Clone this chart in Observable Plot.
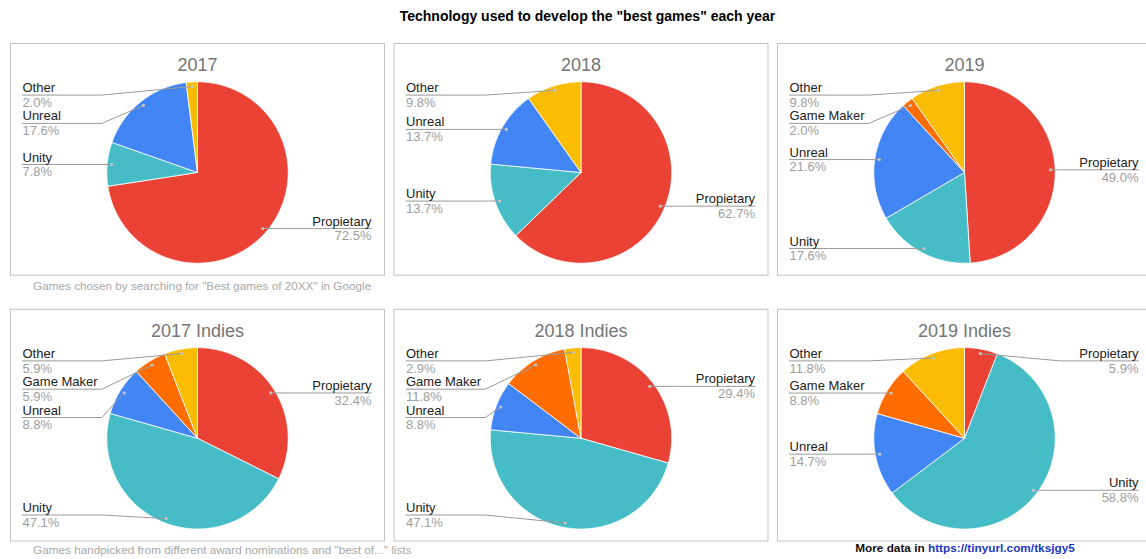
<!DOCTYPE html>
<html>
<head>
<meta charset="utf-8">
<script src="https://cdn.jsdelivr.net/npm/d3@7"></script>
<script src="https://cdn.jsdelivr.net/npm/@observablehq/plot@0.6"></script>
<style>
  html, body { margin: 0; padding: 0; background: #fff; overflow: hidden; width: 1146px; height: 559px; }
  #wrap { position: relative; width: 1146px; height: 559px; font-family: Arial, "Liberation Sans", sans-serif; overflow: hidden; }
  #chart { position: absolute; left: 0; top: 0; width: 1151px; }
  #chart svg { max-width: none !important; }
  .abs { position: absolute; line-height: 1; white-space: nowrap; }
  #title { left: 0; width: 1175px; top: 9px; text-align: center; font-weight: bold; font-size: 14px; color: #000; }
  .caption { left: 33px; font-size: 11.75px; color: #a8a8a8; }
  #cap1 { top: 280.2px; }
  #cap2 { top: 543.7px; }
  #more { left: 765px; width: 400px; text-align: center; top: 543px; font-size: 11.8px; font-weight: bold; color: #111; }
  #more span { color: #2236c8; }
</style>
</head>
<body>
<div id="wrap">
  <div id="chart"></div>
  <div id="title" class="abs">Technology used to develop the "best games" each year</div>
  <div id="cap1" class="abs caption">Games chosen by searching for "Best games of 20XX" in Google</div>
  <div id="cap2" class="abs caption">Games handpicked from different award nominations and "best of..." lists</div>
  <div id="more" class="abs">More data in <span>https://tinyurl.com/tksjgy5</span></div>
</div>
<script>
// ---- data ----
const technologies = ["Propietary", "Unity", "Unreal", "Game Maker", "Other"];
const techColors = ["#ea4335", "#46bdc6", "#4285f4", "#ff6d01", "#fbbc04"];
const panelYears = ["2017", "2018", "2019", "2017", "2018", "2019"];
const panelGroups = ["All", "All", "All", "Indies", "Indies", "Indies"];
const panelTitles = ["2017", "2018", "2019", "2017 Indies", "2018 Indies", "2019 Indies"];
const share2017 = [72.5, 7.8, 17.6, null, 2.0];
const share2018 = [62.7, 13.7, 13.7, null, 9.8];
const share2019 = [49.0, 17.6, 21.6, 2.0, 9.8];
const share2017Indies = [32.4, 47.1, 8.8, 5.9, 5.9];
const share2018Indies = [29.4, 47.1, 8.8, 11.8, 2.9];
const share2019Indies = [5.9, 58.8, 14.7, 8.8, 11.8];
const panelShares = [share2017, share2018, share2019, share2017Indies, share2018Indies, share2019Indies];

// ---- layout constants (pixel units inside each panel, origin at pie centre) ----
const R = 90.7;
const TOP = -R + 13.3, BOTTOM = R - 14, GAP = 28.3;
const LEFT_X = -175, RIGHT_X = 174, BEND = R + 5;

const slices = [], leaders = [], anchors = [], labels = [];
panelShares.forEach((shares, p) => {
  const fx = panelYears[p], fy = panelGroups[p];
  const items = technologies.map((t, i) => ({tech: t, value: shares[i]})).filter(d => d.value > 0);
  const total = d3.sum(items, d => d.value);
  let a = 0;
  items.forEach(d => {
    d.a0 = a; a += d.value / total * 2 * Math.PI; d.a1 = a;
    d.mid = (d.a0 + d.a1) / 2;
    d.id = p + "-" + d.tech;
    const n = Math.max(2, Math.ceil((d.a1 - d.a0) / (Math.PI / 180)));
    slices.push({id: d.id, fx, fy, tech: d.tech, x: 0, y: 0});
    for (let k = 0; k <= n; k++) {
      const ang = d.a0 + (d.a1 - d.a0) * k / n;
      slices.push({id: d.id, fx, fy, tech: d.tech, x: R * Math.sin(ang), y: -R * Math.cos(ang)});
    }
    slices.push({id: d.id, fx, fy, tech: d.tech, x: 0, y: 0});
    d.ax = 0.95 * R * Math.sin(d.mid);
    d.ay = -0.95 * R * Math.cos(d.mid);
    d.side = d.mid > Math.PI ? -1 : 1;
  });
  for (const side of [-1, 1]) {
    const g = items.filter(d => d.side === side).sort((u, v) => u.ay - v.ay);
    let prev = -Infinity;
    g.forEach(d => { d.ly = Math.max(d.ay, TOP, prev + GAP); prev = d.ly; });
    let next = Infinity;
    for (let i = g.length - 1; i >= 0; i--) { const d = g[i]; d.ly = Math.min(d.ly, BOTTOM, next - GAP); next = d.ly; }
  }
  items.forEach(d => {
    const lx = d.side < 0 ? LEFT_X : RIGHT_X;
    leaders.push({id: d.id, fx, fy, x: lx, y: d.ly});
    leaders.push({id: d.id, fx, fy, x: d.side * BEND, y: d.ly});
    leaders.push({id: d.id, fx, fy, x: d.ax, y: d.ay});
    anchors.push({fx, fy, x: d.ax, y: d.ay});
    labels.push({fx, fy, x: lx, y: d.ly, side: d.side, name: d.tech, pct: d.value.toFixed(1) + "%"});
  });
});
const leftLabels = labels.filter(d => d.side < 0);
const rightLabels = labels.filter(d => d.side > 0);
const panelIdx = d3.range(panelTitles.length);

const labelMarks = (data, anchor) => [
  Plot.text(data, {x: "x", y: d => d.y - 3, fx: "fx", fy: "fy", text: "name", textAnchor: anchor, lineAnchor: "bottom", fontSize: 13, fill: "#222"}),
  Plot.text(data, {x: "x", y: d => d.y + 2.5, fx: "fx", fy: "fy", text: "pct", textAnchor: anchor, lineAnchor: "top", fontSize: 13, fill: "#9e9e9e"})
];

const chart = Plot.plot({
  width: 1151, height: 559,
  marginTop: 43, marginBottom: 18.5, marginLeft: 10, marginRight: 0,
  fx: {domain: ["2017", "2018", "2019"], paddingInner: 0.0248, paddingOuter: 0, round: false, axis: null},
  fy: {domain: ["All", "Indies"], paddingInner: 0.1283, paddingOuter: 0, round: false, axis: null},
  x: {domain: [-187, 187], axis: null},
  y: {domain: [-129, 102.7], reverse: true, axis: null},
  color: {domain: technologies, range: techColors},
  style: {fontFamily: "Arial, 'Liberation Sans', sans-serif", background: "transparent", overflow: "visible", maxWidth: "none"},
  marks: [
    Plot.frame({stroke: "#c2c2c2", strokeWidth: 1}),
    Plot.line(slices, {x: "x", y: "y", z: "id", fx: "fx", fy: "fy", fill: "tech", stroke: "white", strokeWidth: 0.8}),
    Plot.line(leaders, {x: "x", y: "y", z: "id", fx: "fx", fy: "fy", stroke: "#9a9a9a", strokeWidth: 1}),
    Plot.dot(anchors, {x: "x", y: "y", fx: "fx", fy: "fy", r: 1.6, fill: "#c4c4c4", stroke: "none"}),
    ...labelMarks(leftLabels, "start"),
    ...labelMarks(rightLabels, "end"),
    Plot.text(panelIdx, {x: 0, y: -101, fx: i => panelYears[i], fy: i => panelGroups[i], text: i => panelTitles[i], lineAnchor: "bottom", fontSize: 18, fill: "#757575"})
  ]
});
document.getElementById("chart").appendChild(chart);
</script>
</body>
</html>
